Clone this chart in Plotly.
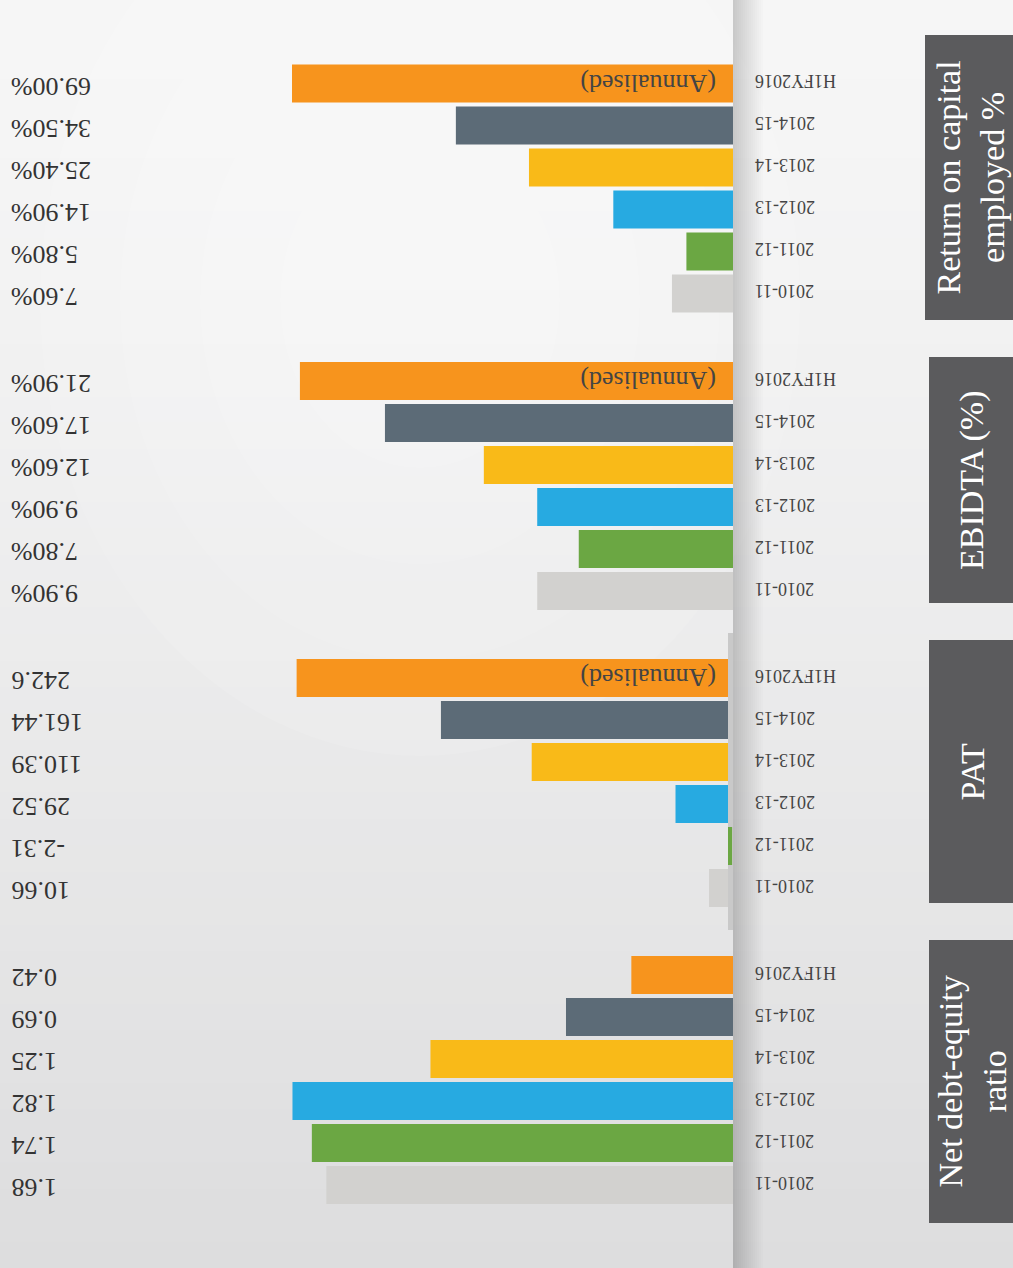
import plotly.graph_objects as go

# ---------------- data ----------------
years = ["H1FY2016", "2014-15", "2013-14", "2012-13", "2011-12", "2010-11"]
roce = [69.00, 34.50, 25.40, 14.90, 5.80, 7.60]
ebitda = [21.90, 17.60, 12.60, 9.90, 7.80, 9.90]
pat = [242.6, 161.44, 110.39, 29.52, -2.31, 10.66]
net_debt_equity = [0.42, 0.69, 1.25, 1.82, 1.74, 1.68]

roce_labels = ["69.00%", "34.50%", "25.40%", "14.90%", "5.80%", "7.60%"]
ebitda_labels = ["21.90%", "17.60%", "12.60%", "9.90%", "7.80%", "9.90%"]
pat_labels = ["242.6", "161.44", "110.39", "29.52", "-2.31", "10.66"]
nde_labels = ["0.42", "0.69", "1.25", "1.82", "1.74", "1.68"]

panel_titles = ["Return on capital<br>employed %", "EBIDTA (%)", "PAT", "Net debt-equity<br>ratio"]
annualised_note = "(Annualised)"

bar_colors = ["#F7941D", "#5C6B77", "#F9BA18", "#27AAE1", "#6BA743", "#D2D1CF"]

# ---------------- layout helpers ----------------
W, H = 1013, 1268
SERIF = "Liberation Serif, Times New Roman, serif"


def px(xp):
    return xp / W


def py(yp):
    return 1 - yp / H


panels = [
    dict(vals=roce, labels=roce_labels, rng=[54.9, 0], ydom=(62.5, 314.5), note=True,
         box=(925, 35, 1013, 320)),
    dict(vals=ebitda, labels=ebitda_labels, rng=[22.3, 0], ydom=(360, 612), note=True,
         box=(929, 357, 1013, 603)),
    dict(vals=pat, labels=pat_labels, rng=[245.2, -2.81], ydom=(657, 909), note=True,
         box=(929, 640, 1013, 903)),
    dict(vals=net_debt_equity, labels=nde_labels, rng=[1.822, 0], ydom=(954, 1206), note=False,
         box=(929, 940, 1013, 1223)),
]

fig = go.Figure()
shapes = []
annotations = []

# background: soft vertical gradient
top_c = (246, 246, 246)
bot_c = (221, 221, 222)
nb = 48
for i in range(nb):
    t = i / (nb - 1)
    c = tuple(int(round(top_c[k] + (bot_c[k] - top_c[k]) * t ** 1.3)) for k in range(3))
    shapes.append(dict(type="rect", xref="paper", yref="paper", x0=0, x1=1,
                       y0=py(H * (i + 1) / nb + 1), y1=py(H * i / nb),
                       fillcolor="rgb(%d,%d,%d)" % c, line_width=0, layer="below"))
# soft glow top-left
for r, op in [(380, 0.10), (300, 0.10), (220, 0.10), (140, 0.10)]:
    shapes.append(dict(type="circle", xref="paper", yref="paper",
                       x0=px(420 - r), x1=px(420 + r), y0=py(300 + r * 1.2), y1=py(300 - r * 1.2),
                       fillcolor="white", opacity=op, line_width=0, layer="below"))
# page fold shadow on the right strip
for k in range(1, 16):
    shapes.append(dict(type="rect", xref="paper", yref="paper",
                       x0=px(733), x1=px(733 + 2 * k), y0=0, y1=1,
                       fillcolor="black", opacity=0.013, line_width=0, layer="below"))

for i, p in enumerate(panels):
    n = i + 1
    xa = "x" if n == 1 else f"x{n}"
    ya = "y" if n == 1 else f"y{n}"
    fig.add_trace(go.Bar(
        x=p["vals"], y=years, orientation="h",
        marker=dict(color=bar_colors, line=dict(width=0)),
        xaxis=xa, yaxis=ya, showlegend=False, hoverinfo="x+y",
    ))
    fig.update_layout(**{
        ("xaxis" if n == 1 else f"xaxis{n}"): dict(
            domain=[px(292), px(733)], range=p["rng"], visible=False, anchor=ya, fixedrange=True,
            type="linear"),
        ("yaxis" if n == 1 else f"yaxis{n}"): dict(
            domain=[py(p["ydom"][1]), py(p["ydom"][0])], type="category", categoryorder="array",
            categoryarray=years, autorange="reversed", visible=False, anchor=xa, fixedrange=True),
    })
    # value labels (upside down) on the left
    for yr, lab in zip(years, p["labels"]):
        annotations.append(dict(xref="paper", yref=ya, x=px(9), y=yr, xanchor="left",
                                text=lab, showarrow=False, textangle=180, yshift=-3,
                                font=dict(family=SERIF, size=26, color="#333333")))
        annotations.append(dict(xref="paper", yref=ya, x=px(753), y=yr, xanchor="left",
                                text=yr, showarrow=False, textangle=180, yshift=2,
                                font=dict(family=SERIF, size=18, color="#444444")))
    if p["note"]:
        annotations.append(dict(xref="paper", yref=ya, x=px(718), y=years[0], xanchor="right",
                                text=annualised_note, showarrow=False, textangle=180,
                                font=dict(family=SERIF, size=26, color="#444444")))
    # title box
    x0, y0, x1, y1 = p["box"]
    shapes.append(dict(type="rect", xref="paper", yref="paper", x0=px(x0), x1=px(x1),
                       y0=py(y1), y1=py(y0), fillcolor="#5B5B5D", line_width=0, layer="above"))
    annotations.append(dict(xref="paper", yref="paper", x=px((x0 + x1) / 2 + 1), y=py((y0 + y1) / 2),
                            text=panel_titles[i], showarrow=False, textangle=-90,
                            xanchor="center", yanchor="middle",
                            font=dict(family=SERIF, size=34, color="white")))

# PAT baseline strip
shapes.append(dict(type="rect", xref="x3", yref="paper", x0=0, x1=-2.81,
                   y0=py(930), y1=py(633), fillcolor="#C9C9C9", line_width=0, layer="below"))

fig.update_layout(
    width=W, height=H, margin=dict(l=0, r=0, t=0, b=0),
    paper_bgcolor="#EDEDED", plot_bgcolor="rgba(0,0,0,0)",
    bargap=0.095, shapes=shapes, annotations=annotations,
)

fig.write_html("out.html", config={"displayModeBar": False},
               post_script="document.body.style.margin='0';")
